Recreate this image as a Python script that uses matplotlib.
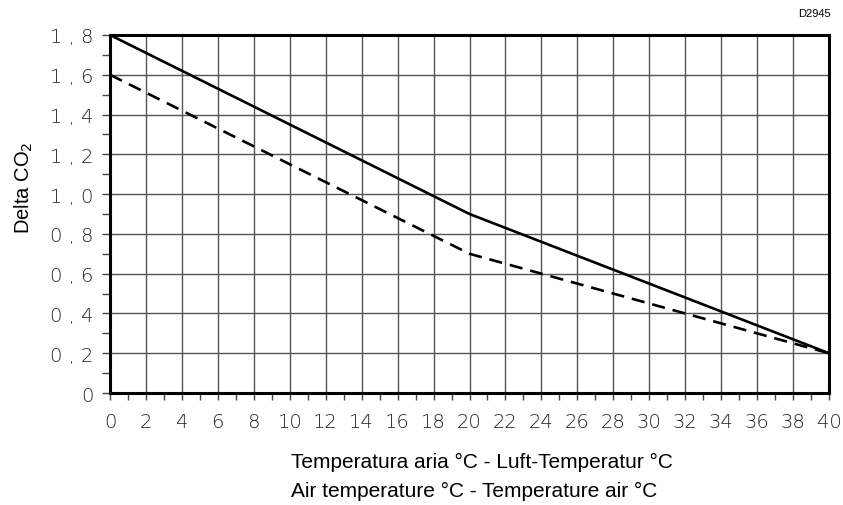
import numpy as np
import matplotlib.pyplot as plt
from matplotlib.ticker import MultipleLocator, FuncFormatter

# data
temp_points = [0, 20, 40]
delta_solid = [1.8, 0.9, 0.2]
delta_dashed = [1.6, 0.7, 0.2]

x_ticks = list(range(0, 41, 2))
y_ticks = [0.0, 0.2, 0.4, 0.6, 0.8, 1.0, 1.2, 1.4, 1.6, 1.8]

fig = plt.figure(figsize=(8.43, 5.06), dpi=100)
ax = fig.add_axes([0.1305, 0.2213, 0.8529, 0.7076])

ax.plot(temp_points, delta_solid, color='black', linewidth=1.9, zorder=3)
ax.plot(temp_points, delta_dashed, color='black', linewidth=1.9,
        dashes=(5, 3), zorder=3)

ax.set_xlim(0, 40)
ax.set_ylim(0, 1.8)
ax.set_xticks(x_ticks)
ax.set_yticks(y_ticks)
ax.xaxis.set_minor_locator(MultipleLocator(1))
ax.yaxis.set_minor_locator(MultipleLocator(0.1))

def fmt_y(v, pos):
    if abs(v) < 1e-9:
        return '0'
    return f'{v:.1f}'.replace('.', ' , ')

ax.yaxis.set_major_formatter(FuncFormatter(fmt_y))

ax.grid(True, which='major', color='#555555', linewidth=1.0, zorder=1)

for s in ax.spines.values():
    s.set_linewidth(2.2)
    s.set_color('black')

ax.tick_params(axis='both', which='both', direction='out', color='#444444',
               width=1.0, length=5)
ax.tick_params(axis='y', which='both', length=6)
ax.tick_params(axis='both', which='major', labelsize=14, labelcolor='#222222')
ax.tick_params(axis='x', which='major', pad=9)
ax.tick_params(axis='y', which='major', pad=6)
for lbl in ax.get_xticklabels() + ax.get_yticklabels():
    lbl.set_fontweight('light')

fig.text(0.345, 0.087, 'Temperatura aria °C - Luft-Temperatur °C',
         ha='left', va='center', fontsize=15, family='Liberation Sans')
fig.text(0.345, 0.028, 'Air temperature °C - Temperature air °C',
         ha='left', va='center', fontsize=15, family='Liberation Sans')
fig.text(0.028, 0.628, 'Delta CO$_2$', rotation=90, ha='center', va='center',
         fontsize=14.5, family='Liberation Sans')
fig.text(0.985, 0.972, 'D2945', ha='right', va='center', fontsize=8,
         family='Liberation Sans')

fig.savefig('out.png', dpi=100)
